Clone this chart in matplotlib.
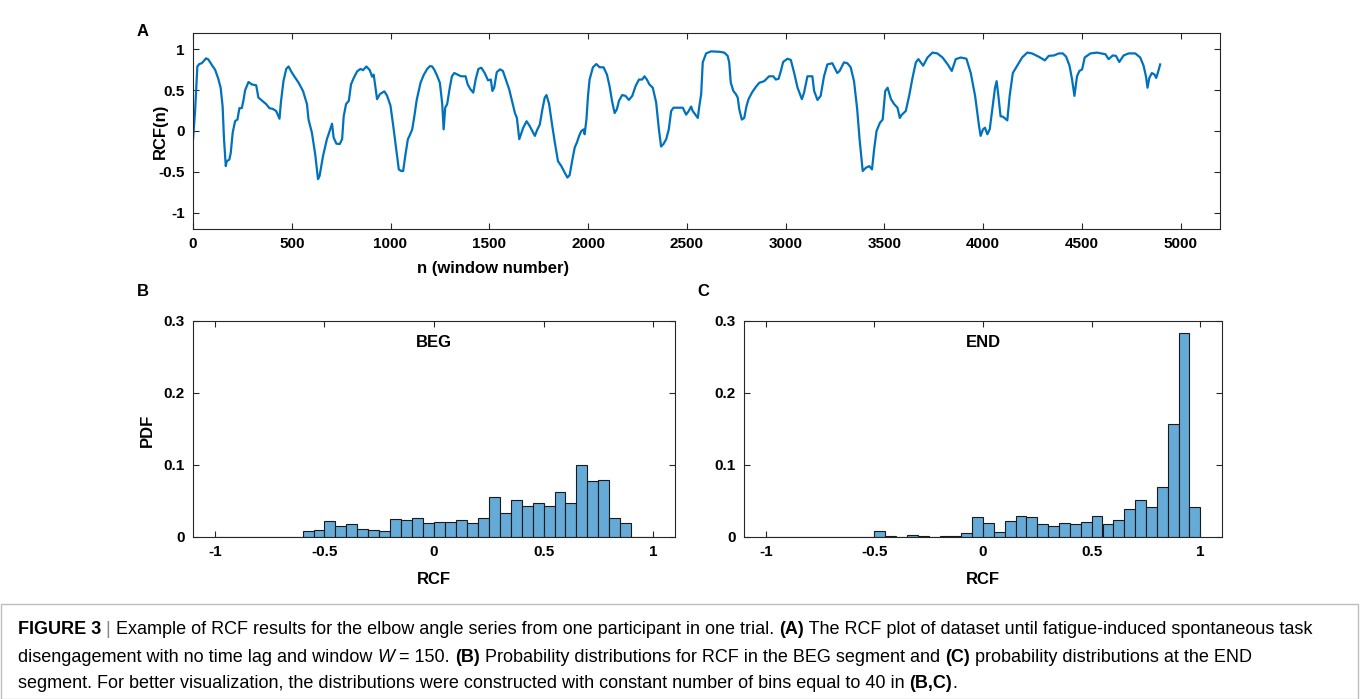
import matplotlib
matplotlib.use("Agg")
import matplotlib.pyplot as plt
import numpy as np
from matplotlib.patches import Rectangle

plt.rcParams['font.family'] = ['Liberation Sans', 'DejaVu Sans']

# RCF(n) trace
rcf_n = [0, 10, 22, 32, 44, 52, 66, 78, 95, 112, 128, 140, 150, 157, 166, 171, 184, 191,
         201, 213, 225, 235, 247, 255, 264, 281, 298, 320, 331, 348, 370, 387, 404, 421,
         438, 445, 458, 472, 484, 497, 514, 535, 557, 577, 585, 602, 619, 633, 641, 658,
         678, 692, 704, 712, 726, 743, 755, 763, 775, 789, 800, 814, 831, 848, 861, 878,
         895, 907, 915, 932, 946, 958, 969, 983, 1000, 1014, 1031, 1042, 1054, 1064, 1076,
         1088, 1098, 1110, 1122, 1132, 1139, 1152, 1169, 1186, 1200, 1211, 1223, 1237,
         1250, 1262, 1269, 1277, 1287, 1300, 1311, 1323, 1340, 1357, 1380, 1391, 1405,
         1419, 1431, 1445, 1460, 1477, 1494, 1508, 1516, 1525, 1538, 1555, 1569, 1584,
         1601, 1613, 1630, 1640, 1652, 1672, 1689, 1705, 1731, 1742, 1756, 1769, 1781,
         1790, 1803, 1818, 1832, 1848, 1865, 1882, 1896, 1907, 1921, 1933, 1944, 1955,
         1966, 1978, 1983, 1992, 2000, 2008, 2025, 2042, 2059, 2079, 2096, 2109, 2123,
         2135, 2146, 2157, 2173, 2190, 2207, 2224, 2241, 2258, 2274, 2286, 2298, 2311,
         2328, 2345, 2359, 2370, 2382, 2396, 2409, 2421, 2433, 2454, 2480, 2497, 2510,
         2522, 2530, 2544, 2556, 2564, 2573, 2581, 2598, 2623, 2665, 2690, 2707, 2715,
         2723, 2736, 2749, 2758, 2766, 2779, 2791, 2803, 2813, 2830, 2850, 2867, 2892,
         2917, 2938, 2951, 2965, 2976, 2988, 3010, 3027, 3044, 3061, 3083, 3094, 3111,
         3136, 3145, 3162, 3178, 3195, 3212, 3237, 3262, 3274, 3296, 3313, 3330, 3347,
         3363, 3375, 3391, 3407, 3424, 3438, 3449, 3461, 3478, 3492, 3505, 3517, 3534,
         3550, 3567, 3579, 3589, 3609, 3626, 3643, 3660, 3673, 3697, 3719, 3744, 3769,
         3795, 3820, 3842, 3862, 3887, 3916, 3938, 3960, 3980, 3988, 4000, 4010, 4022,
         4034, 4047, 4061, 4069, 4077, 4089, 4101, 4123, 4135, 4151, 4173, 4198, 4224,
         4248, 4282, 4313, 4333, 4359, 4384, 4404, 4421, 4438, 4451, 4463, 4476, 4488,
         4502, 4515, 4544, 4577, 4620, 4636, 4657, 4673, 4690, 4712, 4737, 4771, 4796,
         4813, 4825, 4833, 4842, 4855, 4869, 4877, 4885, 4897]
rcf_val = [-0.10, 0.22, 0.79, 0.82, 0.83, 0.85, 0.89, 0.875, 0.81, 0.75, 0.64, 0.53, 0.30,
           -0.10, -0.43, -0.37, -0.35, -0.27, -0.02, 0.12, 0.14, 0.28, 0.28, 0.37, 0.50,
           0.60, 0.57, 0.56, 0.41, 0.375, 0.33, 0.28, 0.27, 0.245, 0.15, 0.35, 0.61, 0.76,
           0.79, 0.73, 0.665, 0.59, 0.49, 0.33, 0.14, -0.02, -0.29, -0.59, -0.55, -0.31,
           -0.10, 0.0, 0.09, -0.08, -0.155, -0.16, -0.10, 0.18, 0.33, 0.37, 0.57, 0.65,
           0.73, 0.76, 0.745, 0.79, 0.745, 0.665, 0.69, 0.39, 0.45, 0.47, 0.485, 0.43,
           0.31, 0.06, -0.265, -0.47, -0.49, -0.49, -0.285, -0.10, -0.05, 0.02, 0.20,
           0.37, 0.45, 0.59, 0.69, 0.76, 0.795, 0.79, 0.745, 0.67, 0.59, 0.33, 0.02,
           0.285, 0.33, 0.53, 0.67, 0.71, 0.69, 0.67, 0.67, 0.57, 0.51, 0.47, 0.63, 0.76,
           0.775, 0.71, 0.62, 0.63, 0.49, 0.53, 0.72, 0.755, 0.735, 0.63, 0.51, 0.39,
           0.22, 0.16, -0.10, 0.04, 0.12, 0.06, -0.06, 0.01, 0.08, 0.265, 0.41, 0.44,
           0.33, 0.08, -0.14, -0.37, -0.43, -0.51, -0.57, -0.54, -0.35, -0.20, -0.14,
           -0.06, 0.0, 0.02, -0.04, 0.14, 0.43, 0.63, 0.78, 0.82, 0.78, 0.78, 0.69, 0.55,
           0.35, 0.22, 0.265, 0.37, 0.44, 0.43, 0.38, 0.43, 0.55, 0.63, 0.63, 0.67, 0.63,
           0.57, 0.53, 0.35, 0.02, -0.19, -0.16, -0.10, 0.02, 0.245, 0.285, 0.285, 0.285,
           0.20, 0.245, 0.30, 0.245, 0.20, 0.16, 0.31, 0.45, 0.84, 0.95, 0.975, 0.97,
           0.96, 0.92, 0.84, 0.59, 0.49, 0.45, 0.41, 0.265, 0.14, 0.16, 0.31, 0.39, 0.47,
           0.54, 0.59, 0.61, 0.67, 0.67, 0.63, 0.64, 0.73, 0.845, 0.885, 0.87, 0.71, 0.53,
           0.39, 0.47, 0.67, 0.67, 0.49, 0.38, 0.43, 0.67, 0.815, 0.83, 0.71, 0.735, 0.84,
           0.83, 0.78, 0.61, 0.265, -0.10, -0.49, -0.45, -0.43, -0.47, -0.22, 0.0, 0.10,
           0.14, 0.49, 0.53, 0.39, 0.33, 0.285, 0.16, 0.20, 0.245, 0.43, 0.65, 0.84, 0.88,
           0.80, 0.90, 0.96, 0.95, 0.90, 0.82, 0.735, 0.88, 0.90, 0.885, 0.71, 0.43, 0.06,
           -0.06, 0.02, 0.04, -0.04, 0.02, 0.265, 0.53, 0.61, 0.45, 0.18, 0.175, 0.13,
           0.43, 0.71, 0.80, 0.90, 0.96, 0.95, 0.91, 0.865, 0.92, 0.925, 0.95, 0.95, 0.91,
           0.80, 0.63, 0.43, 0.67, 0.735, 0.755, 0.90, 0.95, 0.96, 0.94, 0.88, 0.925, 0.92,
           0.845, 0.925, 0.95, 0.95, 0.90, 0.80, 0.67, 0.53, 0.65, 0.71, 0.69, 0.65, 0.71,
           0.815]

# probability per bin, 40 bins between -1 and 1
beg_pdf = [0, 0, 0, 0, 0, 0, 0, 0,
           0.0078, 0.0096, 0.022, 0.0147, 0.018, 0.011, 0.0096, 0.0083, 0.0248, 0.023,
           0.0266, 0.0197, 0.0206, 0.0206, 0.023, 0.020, 0.026, 0.0555, 0.034, 0.052,
           0.0436, 0.0477, 0.0436, 0.063, 0.0477, 0.100, 0.0775, 0.0794, 0.0266, 0.0197,
           0, 0]
end_pdf = [0, 0, 0, 0, 0, 0, 0, 0, 0, 0,
           0.0088, 0.002, 0.0005, 0.003, 0.0015, 0.0005, 0.0015, 0.0015, 0.006, 0.0274,
           0.020, 0.0074, 0.0228, 0.0288, 0.0274, 0.0186, 0.0158, 0.0195, 0.0177, 0.0209,
           0.0288, 0.0186, 0.0242, 0.039, 0.051, 0.041, 0.0688, 0.157, 0.283, 0.042]
n_bins = 40

line_color = '#0072BD'
bar_color = '#66AAD7'
axis_color = '#262626'
W, H = 1360, 699


def style_axes(ax):
    for s in ax.spines.values():
        s.set_color(axis_color)
        s.set_linewidth(0.8)
    ax.tick_params(direction='in', top=True, right=True, length=4, width=0.8,
                   colors=axis_color, labelsize=11, pad=6)
    for lab in ax.get_xticklabels() + ax.get_yticklabels():
        lab.set_fontweight('bold')
        lab.set_color('black')


def fx(px):
    return px / W


def fy(py):
    return 1 - py / H


fig = plt.figure(figsize=(13.6, 6.99), dpi=100)

# panel A
axA = fig.add_axes([fx(193), fy(229), fx(1220 - 193), (229 - 33) / H])
axA.plot(rcf_n, rcf_val, color=line_color, lw=1.6)
axA.set_xlim(0, 5200)
axA.set_ylim(-1.2, 1.2)
axA.set_xticks(np.arange(0, 5001, 500))
axA.set_yticks([-1, -0.5, 0, 0.5, 1])
axA.set_yticklabels(['-1', '-0.5', '0', '0.5', '1'])
style_axes(axA)

# panels B and C
edges = np.linspace(-1, 1, n_bins + 1)
axB = fig.add_axes([fx(193), fy(537), fx(675 - 193), (537 - 321) / H])
axC = fig.add_axes([fx(744), fy(537), fx(1222 - 744), (537 - 321) / H])
for ax, vals, title in [(axB, beg_pdf, 'BEG'), (axC, end_pdf, 'END')]:
    ax.bar(edges[:-1], vals, width=np.diff(edges), align='edge', color=bar_color,
           edgecolor='#1a1a1a', linewidth=0.8)
    ax.set_xlim(-1.1, 1.1)
    ax.set_ylim(0, 0.3)
    ax.set_xticks([-1, -0.5, 0, 0.5, 1])
    ax.set_xticklabels(['-1', '-0.5', '0', '0.5', '1'])
    ax.set_yticks([0, 0.1, 0.2, 0.3])
    ax.set_yticklabels(['0', '0.1', '0.2', '0.3'])
    ax.text(0.5, 0.9, title, transform=ax.transAxes, ha='center', va='center',
            fontsize=12, fontweight='bold')
    style_axes(ax)

# labels
fig.text(fx(160), fy(131), 'RCF(n)', rotation=90, ha='center', va='center',
         fontsize=12, fontweight='bold')
fig.text(fx(493), fy(268), 'n (window number)', ha='center', va='center',
         fontsize=12, fontweight='bold')
fig.text(fx(147), fy(430), 'PDF', rotation=90, ha='center', va='center',
         fontsize=12, fontweight='bold')
fig.text(fx(434), fy(580), 'RCF', ha='center', va='center', fontsize=12, fontweight='bold')
fig.text(fx(983), fy(579), 'RCF', ha='center', va='center', fontsize=12, fontweight='bold')
for letter, x, y in [('A', 143, 32), ('B', 143, 292), ('C', 703, 292)]:
    fig.text(fx(x), fy(y), letter, ha='center', va='center', fontsize=12, fontweight='bold')

# caption box
fig.patches.append(Rectangle((fx(1), fy(699)), fx(1357), (699 - 604) / H,
                             transform=fig.transFigure, fill=False,
                             edgecolor='#bdbdbd', linewidth=1))

cap_font = ['Liberation Sans Narrow', 'Liberation Sans', 'DejaVu Sans']
cap_size = 13
caption = [
    [('FIGURE 3', 'bold', 'normal', 'black'), (' | ', 'normal', 'normal', '#888888'),
     ('Example of RCF results for the elbow angle series from one participant in one trial. ',
      'normal', 'normal', 'black'),
     ('(A)', 'bold', 'normal', 'black'),
     (' The RCF plot of dataset until fatigue-induced spontaneous task', 'normal', 'normal', 'black')],
    [('disengagement with no time lag and window ', 'normal', 'normal', 'black'),
     ('W', 'normal', 'italic', 'black'), (' = 150. ', 'normal', 'normal', 'black'),
     ('(B)', 'bold', 'normal', 'black'),
     (' Probability distributions for RCF in the BEG segment and ', 'normal', 'normal', 'black'),
     ('(C)', 'bold', 'normal', 'black'),
     (' probability distributions at the END', 'normal', 'normal', 'black')],
    [('segment. For better visualization, the distributions were constructed with constant '
      'number of bins equal to 40 in ', 'normal', 'normal', 'black'),
     ('(B,C)', 'bold', 'normal', 'black'), ('.', 'normal', 'normal', 'black')],
]
renderer = fig.canvas.get_renderer()
for line, y in zip(caption, [630, 657, 683]):
    x = 18
    for txt, weight, style, col in line:
        t = fig.text(fx(x), fy(y), txt, ha='left', va='center', family=cap_font,
                     fontsize=cap_size, fontweight=weight, fontstyle=style, color=col)
        x += t.get_window_extent(renderer).width

fig.savefig('out.png', dpi=100)
